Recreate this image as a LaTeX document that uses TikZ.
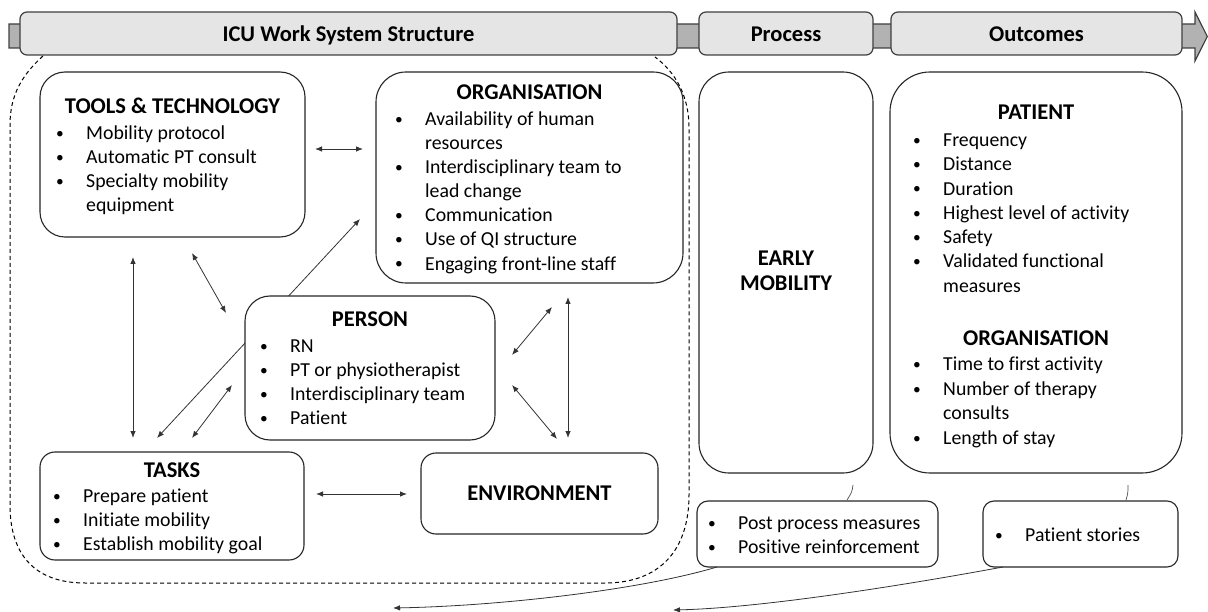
\documentclass[tikz,border=0pt]{standalone}
\usepackage{fontspec}
\setmainfont{Carlito}[Ligatures={NoCommon}]
\usetikzlibrary{arrows.meta}
\newcommand\B{\llap{\raisebox{1.1pt}{\scalebox{0.78}{\textbullet}}\hspace{22.5pt}}}
\newcommand\bx[6]{\node[box,rounded corners=#6,minimum width={#4-#2},minimum height={#5-#3}] (#1) at ({(#2+#4)/2},{(#3+#5)/2}) {};}
\newcommand\lst[5]{\foreach \t [count=\i] in {#5} {\node[txt] (#1-\i) at (#2,{#3+#4*(\i-1)}) {\t};}}
\tikzset{
 box/.style={draw=black!85, line width=1.1pt, fill=white, inner sep=0pt, outer sep=0pt},
 ban/.style={draw=black!75, line width=1.2pt, fill=black!10, inner sep=0pt, outer sep=0pt},
 txt/.style={anchor=base west, inner sep=0pt, font=\fontsize{19.8pt}{24pt}\selectfont},
 ttl/.style={anchor=base, inner sep=0pt, font=\fontsize{22.5pt}{27pt}\selectfont\bfseries},
 lnk/.style={draw=black!80, line width=0.8pt, {Latex[length=7pt,width=5.5pt]}-{Latex[length=7pt,width=5.5pt]}},
 onel/.style={draw=black!80, line width=0.8pt, -{Latex[length=7pt,width=5.5pt]}},
 tick/.style={draw=black!70, line width=0.7pt},
 dsh/.style={draw=black, line width=1pt, dash pattern=on 4pt off 3pt},
}
\begin{document}
\begin{tikzpicture}[x=1pt,y=-1pt]
\useasboundingbox (0,0) rectangle (1208,612);
% banner arrow
\draw[draw=black!75, line width=1.2pt, fill=black!30] (9,24) -- (1195,24) -- (1195,12) -- (1207.3,36.5) -- (1195,61) -- (1195,48) -- (9,48) -- cycle;
\node[ban,rounded corners=7pt,minimum width=657pt,minimum height=43pt] (icu) at (348.5,33.5) {};
\node[ban,rounded corners=7pt,minimum width=174pt,minimum height=43pt] (proc) at (786,33.5) {};
\node[ban,rounded corners=7pt,minimum width=291pt,minimum height=43pt] (outc) at (1036.5,33.5) {};
\node[ttl] (icu-t) at (348.5,42) {ICU Work System Structure};
\node[ttl] (proc-t) at (786,42) {Process};
\node[ttl] (outc-t) at (1036.5,42) {Outcomes};
% dashed region
\draw[dsh] (43,56) .. controls (22,75) and (10,95) .. (10,125) -- (10,505) .. controls (10,555) and (35,583) .. (85,583) -- (605,583) .. controls (660,583) and (689,550) .. (689,495) -- (689,128) .. controls (689,95) and (675,72) .. (655,57);
% long connector behind PERSON
\coordinate (c3a) at (157,438); \coordinate (c3b) at (360,219);
\draw[lnk] (c3a) -- (c3b);
% boxes
\bx{tools}{40}{72}{305}{237}{25pt}
\bx{org}{376}{72}{683}{283}{30pt}
\bx{person}{245}{296}{495}{440}{25pt}
\bx{tasks}{40}{452}{304}{560}{15pt}
\bx{env}{421}{453}{658}{534}{15pt}
\bx{early}{699}{72}{873}{473}{30pt}
\bx{pat}{890}{72}{1182}{473}{40pt}
\bx{post}{697}{501}{938}{567}{11pt}
\bx{story}{983}{501}{1178}{567}{11pt}
% texts
\node[ttl] (tools-t) at (172.5,114) {TOOLS \& TECHNOLOGY};
\lst{tools}{86}{139.5}{24}{\B Mobility protocol,\B Automatic PT consult,\B Specialty mobility,equipment}
\node[ttl] (org-t) at (529.5,100) {ORGANISATION};
\lst{org}{425}{125.5}{24.1}{\B Availability of human,resources,\B Interdisciplinary team to,lead change,\B Communication,\B Use of QI structure,\B Engaging front-line staff}
\node[ttl] (person-t) at (370,327) {PERSON};
\lst{person}{290}{352.5}{24}{\B RN,\B PT or physiotherapist,\B Interdisciplinary team,\B Patient}
\node[ttl] (tasks-t) at (172,477) {TASKS};
\lst{tasks}{83}{502.5}{24}{\B Prepare patient,\B Initiate mobility,\B Establish mobility goal}
\node[ttl] (env-t) at (539.5,500) {ENVIRONMENT};
\node[ttl] (early-t1) at (786,266) {EARLY};
\node[ttl] (early-t2) at (786,291) {MOBILITY};
\node[ttl] (pat-t) at (1036,120) {PATIENT};
\lst{pat}{943}{146.5}{24.3}{\B Frequency,\B Distance,\B Duration,\B Highest level of activity,\B Safety,\B Validated functional,measures}
\node[ttl] (pat-o) at (1036,345) {ORGANISATION};
\lst{pato}{943}{370.5}{24.6}{\B Time to first activity,\B Number of therapy,consults,\B Length of stay}
\lst{post}{738}{529.5}{24}{\B Post process measures,\B Positive reinforcement}
\lst{story}{1025}{541.5}{24}{\B Patient stories}
% connectors
\coordinate (c1a) at (133,257); \coordinate (c1b) at (133,438);
\draw[lnk] (c1a) -- (c1b);
\coordinate (c2a) at (192,253); \coordinate (c2b) at (226,313);
\draw[lnk] (c2a) -- (c2b);
\coordinate (c4a) at (192,438); \coordinate (c4b) at (232,385);
\draw[lnk] (c4a) -- (c4b);
\coordinate (c5a) at (315,149); \coordinate (c5b) at (363,149);
\draw[lnk] (c5a) -- (c5b);
\coordinate (c6a) at (316,494); \coordinate (c6b) at (407,494);
\draw[lnk] (c6a) -- (c6b);
\coordinate (c7a) at (512,355); \coordinate (c7b) at (552,307);
\draw[lnk] (c7a) -- (c7b);
\coordinate (c8a) at (568,297); \coordinate (c8b) at (568,438);
\draw[lnk] (c8a) -- (c8b);
\coordinate (c9a) at (512,385); \coordinate (c9b) at (557,439);
\draw[lnk] (c9a) -- (c9b);
% ticks
\coordinate (k1a) at (853,485); \coordinate (k1b) at (847,500);
\draw[tick] (k1a) .. controls (852,492) .. (k1b);
\coordinate (k2a) at (1128,485); \coordinate (k2b) at (1126,500);
\draw[tick] (k2a) .. controls (1128,493) .. (k2b);
% bottom arrows
\coordinate (ba) at (393,608); \coordinate (bb) at (673,610);
\draw[onel] ([xshift=20pt]post.south west) .. controls (640,590) and (500,606) .. (ba);
\draw[onel] ([xshift=20pt]story.south west) .. controls (900,586) and (760,608) .. (bb);
\end{tikzpicture}
\end{document}
